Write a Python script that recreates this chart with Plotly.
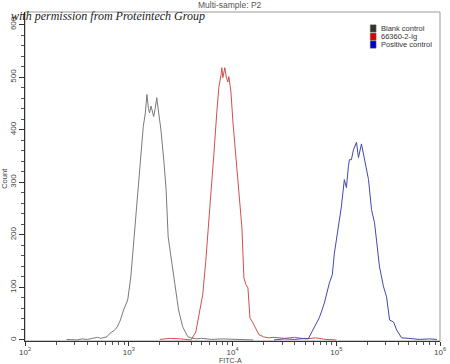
import numpy as np
import plotly.graph_objects as go

# ---- data (log10 FITC-A positions and counts) ----
blank_log10 = [2.40, 2.50, 2.55, 2.60, 2.65, 2.70, 2.73, 2.76, 2.79, 2.82, 2.86, 2.89, 2.92, 2.95, 2.99,
               3.02, 3.05, 3.08, 3.11, 3.14, 3.16, 3.175, 3.19, 3.20, 3.215, 3.23, 3.24, 3.255, 3.27,
               3.28, 3.29, 3.31, 3.34, 3.36, 3.38, 3.42, 3.45, 3.48, 3.52, 3.55, 3.57, 3.60, 3.65,
               3.70, 3.80, 3.90, 4.00, 4.20]
blank_count = [1, 0, 2, 1, 3, 5, 3, 4, 6, 13, 18, 25, 38, 57, 76,
               120, 190, 273, 337, 406, 432, 467, 440, 432, 445, 434, 425, 440, 461,
               445, 432, 400, 337, 286, 196, 139, 90, 57, 25, 12, 6, 4, 2,
               3, 1, 2, 1, 0]

sample_log10 = [3.30, 3.40, 3.50, 3.56, 3.60, 3.646, 3.675, 3.713, 3.742, 3.772, 3.801, 3.82, 3.849,
                3.868, 3.89, 3.897, 3.907, 3.926, 3.94, 3.955, 3.965, 3.985, 4.004, 4.033, 4.062,
                4.091, 4.11, 4.13, 4.149, 4.168, 4.19, 4.207, 4.23, 4.255, 4.30, 4.343, 4.40, 4.50,
                4.60, 4.70, 4.80, 4.90, 5.00]
sample_count = [1, 3, 2, 1, 0, 15, 48, 86, 149, 225, 290, 352, 434,
                480, 505, 518, 499, 518, 500, 491, 501, 472, 415, 352, 282,
                213, 118, 105, 99, 42, 35, 29, 18, 10, 6, 4, 5, 3,
                5, 2, 4, 1, 0]

positive_log10 = [4.40, 4.50, 4.60, 4.70, 4.73, 4.759, 4.807, 4.836, 4.86, 4.885, 4.933, 4.962, 4.982,
                  5.02, 5.049, 5.078, 5.098, 5.117, 5.127, 5.146, 5.166, 5.195, 5.205, 5.214, 5.243,
                  5.272, 5.311, 5.34, 5.369, 5.388, 5.417, 5.456, 5.485, 5.514, 5.553, 5.582, 5.61,
                  5.63, 5.70, 5.80, 5.90, 5.97]
positive_count = [0, 2, 1, 3, 2, 13, 32, 42, 55, 70, 108, 124, 165,
                  216, 253, 305, 290, 330, 343, 343, 362, 376, 360, 347, 373,
                  343, 305, 248, 223, 190, 139, 101, 82, 38, 34, 19, 10,
                  4, 3, 1, 2, 1]

series_names = ["Blank control", "66360-2-Ig", "Positive control"]
line_colors = ["#7a7a7a", "#d05050", "#4646b4"]
swatch_colors = ["#333333", "#dd0000", "#0000cc"]

x_tick_exps = [2, 3, 4, 5, 6]
x_tick_labels = ["10<sup>2</sup>", "10<sup>3</sup>", "10<sup>4</sup>", "10<sup>5</sup>", "10<sup>6</sup>"]
y_tick_vals = [0, 100, 200, 300, 400, 500, 600]
x_minor_vals = [m * 10 ** e for e in x_tick_exps[:-1] for m in range(2, 10)]

fig = go.Figure()
for lg, cnt, name, col in [(blank_log10, blank_count, series_names[0], line_colors[0]),
                           (sample_log10, sample_count, series_names[1], line_colors[1]),
                           (positive_log10, positive_count, series_names[2], line_colors[2])]:
    fig.add_trace(go.Scatter(x=10 ** np.array(lg), y=cnt, mode="lines", name=name,
                             line=dict(color=col, width=1), showlegend=False))

font = "Liberation Sans, Arial, sans-serif"
fig.update_layout(
    width=450, height=364,
    margin=dict(l=25, r=10, t=12, b=23),
    paper_bgcolor="white", plot_bgcolor="white",
    font=dict(family=font, size=8, color="#444"),
    showlegend=False,
)
fig.update_xaxes(type="log", range=[2, 6], automargin=False,
                 tickvals=[10 ** e for e in x_tick_exps], ticktext=x_tick_labels,
                 ticks="outside", ticklen=4, tickcolor="#333", linecolor="#333", linewidth=1,
                 showgrid=False, zeroline=False, mirror=False, ticklabelstandoff=-1,
                 minor=dict(ticks="outside", ticklen=3, tickcolor="#555", showgrid=False,
                            tickvals=x_minor_vals),
                 tickfont=dict(size=8, color="#444"))
fig.update_yaxes(range=[-2, 624], tickvals=y_tick_vals, tickangle=-90, automargin=False,
                 ticks="outside", ticklen=5, tickcolor="#333", linecolor="#333", linewidth=1,
                 showgrid=False, zeroline=False,
                 minor=dict(ticks="outside", ticklen=3, tickcolor="#555", dtick=20, showgrid=False),
                 tickfont=dict(size=8, color="#444"))

# frame (top/right)
fig.add_shape(type="rect", xref="paper", yref="paper", x0=0, x1=1, y0=0, y1=1,
              line=dict(color="#999", width=1), layer="below")

# axis titles
fig.add_annotation(text="FITC-A", xref="paper", yref="paper", x=0.494, y=0, yshift=-19,
                   xanchor="center", yanchor="middle", showarrow=False,
                   font=dict(size=7, color="#444", family=font))
fig.add_annotation(text="Count", xref="paper", yref="paper", x=0, xshift=-20, y=0.493,
                   xanchor="center", yanchor="middle", showarrow=False, textangle=-90,
                   font=dict(size=7.5, color="#444", family=font))

# title
fig.add_annotation(text="Multi-sample: P2", xref="paper", yref="paper", x=0.494, y=1.0,
                   xanchor="center", yanchor="bottom", showarrow=False, yshift=0,
                   font=dict(size=8.5, color="#555", family=font))

# legend (swatches + text)
leg_x0 = 0.832
leg_y = [0.950, 0.925, 0.901]
for i, (name, col) in enumerate(zip(series_names, swatch_colors)):
    fig.add_shape(type="rect", xref="paper", yref="paper",
                  x0=leg_x0, x1=leg_x0 + 0.014, y0=leg_y[i] - 0.011, y1=leg_y[i] + 0.011,
                  fillcolor=col, line=dict(color="#666", width=0.5))
    fig.add_annotation(text=name, xref="paper", yref="paper", x=leg_x0 + 0.020, y=leg_y[i],
                       xanchor="left", yanchor="middle", showarrow=False,
                       font=dict(size=7.5, color="#333", family=font))

# watermark
fig.add_annotation(text="<i>with permission from Proteintech Group</i>", xref="paper", yref="paper",
                   x=0, xshift=-16, y=1.0, yshift=-4, xanchor="left", yanchor="middle", showarrow=False,
                   font=dict(size=12, color="#222", family="Liberation Serif, serif"))

fig.write_html("out.html", post_script="document.body.style.margin='0';",
               config={"displayModeBar": False})
